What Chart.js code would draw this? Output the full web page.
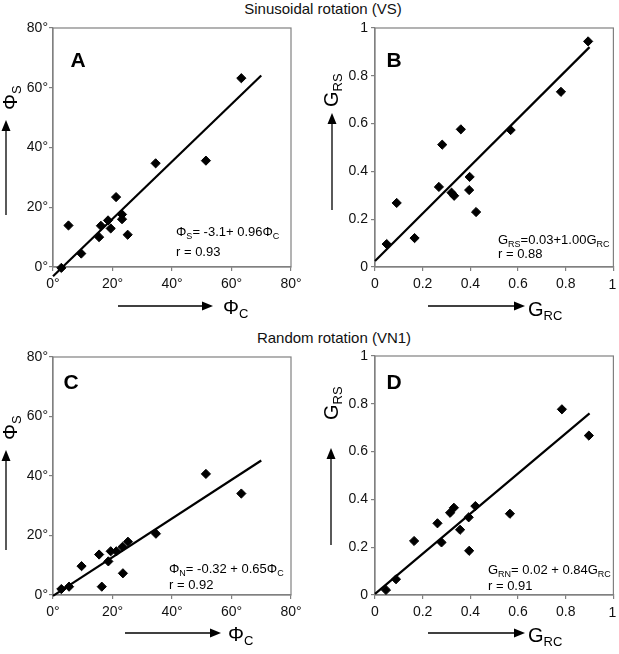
<!DOCTYPE html>
<html><head><meta charset="utf-8">
<script src="https://cdn.jsdelivr.net/npm/chart.js@4.4.0/dist/chart.umd.min.js"></script>
<style>
html,body{margin:0;padding:0;background:#fff;overflow:hidden;width:619px;height:654px;position:relative}
canvas{position:absolute}
.title{position:absolute;font-family:"Liberation Sans",Arial,sans-serif;font-size:15px;color:#111;white-space:nowrap;transform:translate(-50%,-50%)}
.edge{position:absolute;z-index:5;font-family:"Liberation Sans",Arial,sans-serif;font-size:14px;line-height:14px;color:#111;white-space:nowrap;transform:translate(-50%,-50%)}
</style></head><body>
<div class="title" style="left:323px;top:8px">Sinusoidal rotation (VS)</div>
<div class="title" style="left:334px;top:337px">Random rotation (VN1)</div>
<canvas id="cA"></canvas><canvas id="cB"></canvas><canvas id="cC"></canvas><canvas id="cD"></canvas>
<script>
// ---------- data ----------
const phiC_A = [63.3, 51.4, 34.5, 21.2, 5.2, 16.1, 18.5, 19.4, 15.5, 23.2, 23.2, 25.1, 9.5, 2.8];
const phiS_A = [63.2, 35.6, 34.7, 23.4, 13.9, 13.8, 15.6, 12.9, 10.0, 17.6, 16.0, 10.8, 4.5, -0.3];
const lineA_x = [0, 70];
const lineA_y = [-3.1, 64.1];

const grc_B = [0.894, 0.780, 0.569, 0.360, 0.282, 0.397, 0.395, 0.268, 0.321, 0.332, 0.424, 0.091, 0.166, 0.049];
const grs_B = [0.944, 0.733, 0.573, 0.576, 0.512, 0.377, 0.322, 0.335, 0.311, 0.298, 0.230, 0.268, 0.121, 0.096];
const lineB_x = [0, 0.9];
const lineB_y = [0.025, 0.92];

const phiC_C = [51.4, 63.3, 34.6, 25.2, 23.4, 21.3, 19.4, 15.5, 18.6, 9.6, 23.5, 16.4, 5.4, 2.8];
const phiS_C = [40.7, 34.1, 20.6, 17.9, 16.2, 14.7, 14.7, 13.6, 11.3, 9.7, 7.3, 2.8, 2.8, 2.0];
const lineC_x = [0, 70];
const lineC_y = [-0.32, 45.2];

const grc_D = [0.784, 0.897, 0.566, 0.421, 0.331, 0.315, 0.393, 0.262, 0.357, 0.164, 0.279, 0.395, 0.088, 0.046];
const grs_D = [0.777, 0.667, 0.340, 0.372, 0.365, 0.344, 0.325, 0.300, 0.273, 0.226, 0.220, 0.185, 0.066, 0.021];
const lineD_x = [0, 0.9];
const lineD_y = [0.005, 0.76];

const degTicks = [0, 20, 40, 60, 80];
const gTicks = [0, 0.2, 0.4, 0.6, 0.8, 1];

// ---------- helpers ----------
const FONT = '"Liberation Sans", Arial, sans-serif';
const zip = (xs, ys) => xs.map((x, i) => ({x: x, y: ys[i]}));

function rich(ctx, x, y, parts, size, subSize, subDy) {
  let cx = x;
  for (const [t, sub] of parts) {
    ctx.font = (sub ? subSize : size) + 'px ' + FONT;
    ctx.fillText(t, cx, y + (sub ? subDy : 0));
    cx += ctx.measureText(t).width;
  }
  return cx - x;
}
function arrow(ctx, x1, y1, x2, y2) {
  const ang = Math.atan2(y2 - y1, x2 - x1), L = 11, W = 4.5;
  const bx = x2 - L * Math.cos(ang), by = y2 - L * Math.sin(ang);
  ctx.beginPath(); ctx.moveTo(x1, y1); ctx.lineTo(bx, by);
  ctx.lineWidth = 1.3; ctx.strokeStyle = '#000'; ctx.stroke();
  ctx.beginPath(); ctx.moveTo(x2, y2);
  ctx.lineTo(bx + W * Math.sin(ang), by - W * Math.cos(ang));
  ctx.lineTo(bx - W * Math.sin(ang), by + W * Math.cos(ang));
  ctx.closePath(); ctx.fillStyle = '#000'; ctx.fill();
}

const decoPlugin = {
  id: 'deco',
  beforeDatasetsDraw(chart) {
    const a = chart.chartArea, ctx = chart.ctx;
    ctx.save(); ctx.strokeStyle = '#808080'; ctx.lineWidth = 1.2;
    ctx.strokeRect(a.left, a.top, a.right - a.left, a.bottom - a.top);
    ctx.restore();
  },
  afterDraw(chart) {
    const d = chart.options.plugins.deco, ctx = chart.ctx;
    const ox = d.ox, oy = d.oy;
    ctx.save();
    ctx.textBaseline = 'alphabetic'; ctx.fillStyle = '#000';
    ctx.font = 'bold 21px "Liberation Sans Narrow", "Liberation Sans", Arial, sans-serif';
    ctx.textAlign = 'center';
    ctx.fillText(d.letter[0], d.letter[1] - ox, d.letter[2] - oy);
    ctx.textAlign = 'left';
    arrow(ctx, d.xArrow[0] - ox, d.xArrow[2] - oy, d.xArrow[1] - ox, d.xArrow[2] - oy);
    ctx.fillStyle = '#000';
    rich(ctx, d.xLab[0] - ox, d.xLab[1] - oy, d.xLab[2], 20, 13, 4);
    arrow(ctx, d.yArrow[0] - ox, d.yArrow[1] - oy, d.yArrow[0] - ox, d.yArrow[2] - oy);
    ctx.fillStyle = '#000';
    ctx.save();
    ctx.translate(d.yLab[0] - ox, d.yLab[1] - oy); ctx.rotate(-Math.PI / 2);
    rich(ctx, 0, 0, d.yLab[2], 20, 13, 4);
    ctx.restore();
    for (const ln of d.notes) {
      rich(ctx, ln[0] - ox, ln[1] - oy, ln[2], 13, 9, 3);
    }
    ctx.restore();
  }
};

function makeChart(id, p) {
  const cv = document.getElementById(id);
  cv.width = p.w; cv.height = p.h;
  cv.style.left = p.left + 'px'; cv.style.top = p.top + 'px';
  const a = p.area;
  const tickFont = {family: FONT, size: 14};
  const fmtDeg = v => Math.round(v) + '°';
  const fmtG = v => Math.abs(v) < 1e-9 ? '0' : (Math.abs(v - 1) < 1e-9 ? '1' : v.toFixed(1));
  const axisCommon = (tickVals, xAxis) => ({
    type: 'linear', min: tickVals[0], max: tickVals[tickVals.length - 1],
    afterBuildTicks: s => { s.ticks = tickVals.map(v => ({value: v})); },
    ticks: {
      callback: p.deg ? fmtDeg : (xAxis ? (v => Math.abs(v - 1) < 1e-9 ? '' : fmtG(v)) : fmtG),
      font: tickFont, color: '#111', padding: xAxis ? 5 : (p.deg ? 1 : 3),
      autoSkip: false, maxRotation: 0},
    grid: {display: true, drawOnChartArea: false, drawTicks: true, tickLength: 4, color: '#808080', lineWidth: 1.2},
    border: {display: true, color: '#808080', width: 1.2}
  });
  const xs = axisCommon(p.xticks, true);
  xs.afterFit = s => { s.height = p.top + p.h - a.b; };
  const ys = axisCommon(p.yticks, false);
  ys.afterFit = s => { s.width = a.l - p.left; };
  const chart = new Chart(cv, {
    type: 'scatter',
    data: {datasets: [
      {data: zip(p.lx, p.ly), showLine: true, pointRadius: 0, borderColor: '#000', borderWidth: 2.2, clip: false, order: 2},
      {data: zip(p.px, p.py), pointStyle: 'rectRot', pointRadius: 4.6, backgroundColor: '#000', borderColor: '#000', borderWidth: 1, clip: false, order: 1}
    ]},
    options: {
      responsive: false, animation: false, devicePixelRatio: 1,
      events: [],
      layout: {padding: {left: 0, top: a.t - p.top, right: p.left + p.w - a.r, bottom: 0}},
      scales: {x: xs, y: ys},
      plugins: {legend: {display: false}, tooltip: {enabled: false}, deco: p.deco}
    },
    plugins: [decoPlugin]
  });
  // right-edge "1" label of the G axes, placed from the x scale as a text element on top
  if (!p.deg) {
    const sx = chart.scales.x;
    const lab = document.createElement('div');
    lab.className = 'edge';
    lab.textContent = fmtG(p.xticks[p.xticks.length - 1]);
    lab.style.left = (p.left + sx.getPixelForValue(p.xticks[p.xticks.length - 1]) - 1) + 'px';
    lab.style.top = (p.top + sx.top + 17) + 'px';
    document.body.appendChild(lab);
  }
  return chart;
}

const PHI = 'Φ';
makeChart('cA', {
  left: 0, top: 0, w: 310, h: 322, area: {l: 53, t: 28, r: 291, b: 267}, deg: true,
  xticks: degTicks, yticks: degTicks, px: phiC_A, py: phiS_A, lx: lineA_x, ly: lineA_y,
  deco: {ox: 0, oy: 0, letter: ['A', 78, 67],
    xArrow: [118, 213, 306], xLab: [223, 314, [[PHI, false], ['C', true]]],
    yArrow: [6, 215, 120], yLab: [17, 110, [[PHI, false], ['S', true]]],
    notes: [[176, 235.5, [[PHI, false], ['S', true], ['= -3.1+ 0.96', false], [PHI, false], ['C', true]]],
            [176, 255.5, [['r = 0.93', false]]]]}
});
makeChart('cB', {
  left: 310, top: 0, w: 309, h: 322, area: {l: 375, t: 28, r: 614, b: 267}, deg: false,
  xticks: gTicks, yticks: gTicks, px: grc_B, py: grs_B, lx: lineB_x, ly: lineB_y,
  deco: {ox: 310, oy: 0, letter: ['B', 394, 67],
    xArrow: [428, 525, 306], xLab: [528, 316, [['G', false], ['RC', true]]],
    yArrow: [332, 210, 113], yLab: [338, 107, [['G', false], ['RS', true]]],
    notes: [[498, 243.5, [['G', false], ['RS', true], ['=0.03+1.00', false], ['G', false], ['RC', true]]],
            [498, 257.5, [['r = 0.88', false]]]]}
});
makeChart('cC', {
  left: 0, top: 322, w: 310, h: 332, area: {l: 53, t: 357, r: 291, b: 595}, deg: true,
  xticks: degTicks, yticks: degTicks, px: phiC_C, py: phiS_C, lx: lineC_x, ly: lineC_y,
  deco: {ox: 0, oy: 322, letter: ['C', 71, 389],
    xArrow: [125, 221, 633], xLab: [228, 641, [[PHI, false], ['C', true]]],
    yArrow: [6, 550, 450], yLab: [17, 440, [[PHI, false], ['S', true]]],
    notes: [[169, 572.5, [[PHI, false], ['N', true], ['= -0.32 + 0.65', false], [PHI, false], ['C', true]]],
            [169, 588.5, [['r = 0.92', false]]]]}
});
makeChart('cD', {
  left: 310, top: 322, w: 309, h: 332, area: {l: 375, t: 356, r: 614, b: 595}, deg: false,
  xticks: gTicks, yticks: gTicks, px: grc_D, py: grs_D, lx: lineD_x, ly: lineD_y,
  deco: {ox: 310, oy: 322, letter: ['D', 394, 389],
    xArrow: [428, 525, 633], xLab: [528, 642, [['G', false], ['RC', true]]],
    yArrow: [331, 545, 448], yLab: [338, 420, [['G', false], ['RS', true]]],
    notes: [[488, 573.5, [['G', false], ['RN', true], ['= 0.02 + 0.84', false], ['G', false], ['RC', true]]],
            [488, 589.5, [['r = 0.91', false]]]]}
});
</script>
</body></html>
